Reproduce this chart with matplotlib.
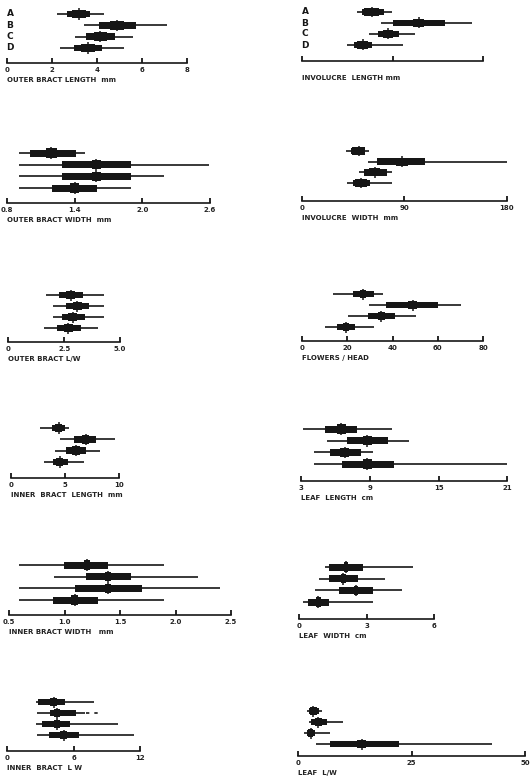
import matplotlib
matplotlib.use("Agg")
import matplotlib.pyplot as plt

taxa = ["A", "B", "C", "D"]

# ---- data (range, mean +/- SD box, mean, half-width of 2SE box) ----
obl_range = [(2.2, 4.3), (3.4, 7.1), (3.0, 5.6), (2.35, 5.2)]
obl_sd = [(2.67, 3.70), (4.07, 5.75), (3.53, 4.81), (2.99, 4.22)]
obl_mean = [3.21, 4.89, 4.15, 3.59]
obl_se = [0.3, 0.3, 0.3, 0.3]

invl_range = [(6.1, 9.9), (8.7, 18.8), (7.4, 12.45), (5.0, 11.2)]
invl_sd = [(6.6, 9.1), (10.1, 15.8), (8.4, 10.7), (5.8, 7.7)]
invl_mean = [7.7, 12.9, 9.5, 6.7]
invl_se = [0.8, 0.6, 0.6, 0.6]

obw_range = [(0.9, 1.49), (0.9, 2.59), (0.9, 2.19), (0.9, 1.9)]
obw_sd = [(1.0, 1.41), (1.29, 1.9), (1.29, 1.9), (1.2, 1.6)]
obw_mean = [1.19, 1.59, 1.59, 1.40]
obw_se = [0.05, 0.04, 0.04, 0.04]

invw_range = [(39, 59), (58.5, 180), (50, 79), (39.5, 79)]
invw_sd = [(43, 56), (66, 108), (55, 75), (45, 60)]
invw_mean = [50, 88, 64, 52]
invw_se = [6, 5, 5, 5]

oblw_range = [(1.7, 4.3), (2.0, 4.3), (2.0, 4.3), (1.6, 4.0)]
oblw_sd = [(2.28, 3.33), (2.58, 3.63), (2.39, 3.43), (2.19, 3.24)]
oblw_mean = [2.79, 3.09, 2.88, 2.69]
oblw_se = [0.2, 0.2, 0.2, 0.2]

fph_range = [(13.7, 36), (29.8, 70), (20.6, 50.4), (10.3, 32)]
fph_sd = [(22.5, 32), (37, 60), (29.4, 41), (15.7, 23.5)]
fph_mean = [27, 49, 35, 19.5]
fph_se = [1.5, 2.0, 1.5, 1.5]

ibl_range = [(2.7, 5.4), (4.5, 9.6), (4.1, 8.2), (3.1, 6.8)]
ibl_sd = [(3.8, 5.0), (5.8, 7.9), (5.1, 6.9), (3.9, 5.3)]
ibl_mean = [4.4, 6.9, 6.0, 4.5]
ibl_se = [0.35, 0.35, 0.35, 0.35]

ll_range = [(3.2, 10.9), (5.3, 12.4), (4.1, 9.3), (4.1, 21)]
ll_sd = [(5.1, 7.9), (7.0, 10.6), (5.5, 8.2), (6.55, 11.1)]
ll_mean = [6.5, 8.8, 6.8, 8.8]
ll_se = [0.4, 0.4, 0.4, 0.4]

ibw_range = [(0.59, 1.9), (0.9, 2.2), (0.59, 2.4), (0.59, 1.9)]
ibw_sd = [(0.99, 1.39), (1.19, 1.6), (1.09, 1.7), (0.89, 1.3)]
ibw_mean = [1.2, 1.39, 1.39, 1.09]
ibw_se = [0.03, 0.03, 0.03, 0.03]

lw_range = [(1.14, 5.08), (0.89, 3.82), (0.70, 4.56), (0.18, 3.27)]
lw_sd = [(1.34, 2.82), (1.34, 2.63), (1.78, 3.27), (0.40, 1.34)]
lw_mean = [2.08, 1.96, 2.52, 0.85]
lw_se = [0.1, 0.1, 0.1, 0.1]

iblw_range = [(2.6, 7.8), (2.7, 7.0), (2.6, 10.0), (2.65, 11.5)]
iblw_sd = [(2.8, 5.2), (3.9, 6.2), (3.1, 5.7), (3.8, 6.5)]
iblw_mean = [4.2, 4.5, 4.5, 5.1]
iblw_se = [0.3, 0.3, 0.3, 0.3]
iblw_dashed = [None, (7.1, 8.5), None, None]

llw_range = [(2.0, 5.2), (2.4, 9.8), (1.25, 7.0), (3.9, 42.8)]
llw_sd = [(2.4, 4.6), (2.9, 6.25), (2.0, 3.7), (7.1, 22.3)]
llw_mean = [3.3, 4.4, 2.7, 14]
llw_se = [0.8, 0.8, 0.6, 1.0]

# tick values / labels
obl_ticks, obl_tl = [0, 2, 4, 6, 8], ["0", "2", "4", "6", "8"]
invl_ticks, invl_tl = [0, 10, 20], ["", "", ""]
obw_ticks, obw_tl = [0.8, 1.4, 2.0, 2.6], ["0.8", "1.4", "2.0", "2.6"]
invw_ticks, invw_tl = [0, 90, 180], ["0", "90", "180"]
oblw_ticks, oblw_tl = [0, 2.5, 5.0], ["0", "2.5", "5.0"]
fph_ticks, fph_tl = [0, 20, 40, 60, 80], ["0", "20", "40", "60", "80"]
ibl_ticks, ibl_tl = [0, 5, 10], ["0", "5", "10"]
ll_ticks, ll_tl = [3, 9, 15, 21], ["3", "9", "15", "21"]
ibw_ticks, ibw_tl = [0.5, 1.0, 1.5, 2.0, 2.5], ["0.5", "1.0", "1.5", "2.0", "2.5"]
lw_ticks, lw_tl = [0, 3, 6], ["0", "3", "6"]
iblw_ticks, iblw_tl = [0, 6, 12], ["0", "6", "12"]
llw_ticks, llw_tl = [0, 25, 50], ["0", "25", "50"]

W, H = 530, 776
fig = plt.figure(figsize=(W / 100, H / 100), dpi=100)
fig.patch.set_facecolor("white")
INK = "#161616"

panels = [
    # data, ticks, labels, xlabel, layout(x0,x1,axis_y,rowA,rowD), letters
    (obl_range, obl_sd, obl_mean, obl_se, None, obl_ticks, obl_tl, "OUTER BRACT LENGTH  mm", (7, 187, 63, 14, 48), True),
    (invl_range, invl_sd, invl_mean, invl_se, None, invl_ticks, invl_tl, "INVOLUCRE  LENGTH mm", (302, 483, 61, 12, 45), True),
    (obw_range, obw_sd, obw_mean, obw_se, None, obw_ticks, obw_tl, "OUTER BRACT WIDTH  mm", (7.3, 210, 203, 153, 188), False),
    (invw_range, invw_sd, invw_mean, invw_se, None, invw_ticks, invw_tl, "INVOLUCRE  WIDTH  mm", (301.7, 506.7, 201, 151, 183), False),
    (oblw_range, oblw_sd, oblw_mean, oblw_se, None, oblw_ticks, oblw_tl, "OUTER BRACT L/W", (8.3, 120, 342, 295, 328), False),
    (fph_range, fph_sd, fph_mean, fph_se, None, fph_ticks, fph_tl, "FLOWERS / HEAD", (301.7, 483.3, 341, 294, 327), False),
    (ibl_range, ibl_sd, ibl_mean, ibl_se, None, ibl_ticks, ibl_tl, "INNER  BRACT  LENGTH  mm", (11, 119, 478, 428, 462), False),
    (ll_range, ll_sd, ll_mean, ll_se, None, ll_ticks, ll_tl, "LEAF  LENGTH  cm", (301, 507.3, 481, 429, 464), False),
    (ibw_range, ibw_sd, ibw_mean, ibw_se, None, ibw_ticks, ibw_tl, "INNER BRACT WIDTH   mm", (9.3, 231, 615, 565, 600), False),
    (lw_range, lw_sd, lw_mean, lw_se, None, lw_ticks, lw_tl, "LEAF  WIDTH  cm", (299.3, 434, 619, 567, 602), False),
    (iblw_range, iblw_sd, iblw_mean, iblw_se, iblw_dashed, iblw_ticks, iblw_tl, "INNER  BRACT  L W", (7.3, 140, 751, 702, 735), False),
    (llw_range, llw_sd, llw_mean, llw_se, None, llw_ticks, llw_tl, "LEAF  L/W", (298.3, 525, 756, 711, 744), False),
]

for rng, sd, mean, se, dashed, ticks, tls, xlabel, lay, letters in panels:
    x0, x1, ay, rA, rD = lay
    s = (rD - rA) / 3.0
    top = rA - 0.9 * s
    ax = fig.add_axes([x0 / W, 1 - ay / H, (x1 - x0) / W, (ay - top) / H])
    ax.set_facecolor("none")
    ax.set_xlim(ticks[0], ticks[-1])
    ax.set_ylim(3 + (ay - rD) / s, -0.9)
    for sp in ("left", "top", "right"):
        ax.spines[sp].set_visible(False)
    ax.spines["bottom"].set_linewidth(1.2)
    ax.spines["bottom"].set_color(INK)
    ax.set_yticks([])
    ax.set_xticks(ticks)
    ax.set_xticklabels(tls, fontsize=5, fontweight="bold", color="#222222")
    ax.tick_params(axis="x", direction="in", length=3.5, width=1.3, color=INK, pad=3.2)
    for i in range(len(taxa)):
        ax.hlines(i, rng[i][0], rng[i][1], color=INK, lw=1.2, clip_on=False)
        if dashed is not None and dashed[i] is not None:
            ax.hlines(i, dashed[i][0], dashed[i][1], color=INK, lw=1.2,
                      linestyles=(0, (2, 3)), clip_on=False)
        ax.barh(i, sd[i][1] - sd[i][0], left=sd[i][0], height=0.6,
                color=INK, edgecolor="none", clip_on=False)
        ax.barh(i, 2 * se[i], left=mean[i] - se[i], height=0.78,
                color=INK, edgecolor="none", clip_on=False)
        ax.vlines(mean[i], i - 0.5, i + 0.5, color=INK, lw=1.1, clip_on=False)
        if letters:
            ax.annotate(taxa[i], xy=(0, i), xycoords=("axes fraction", "data"),
                        xytext=(2.2, 0), textcoords="offset points",
                        ha="center", va="center", fontsize=6.5,
                        fontweight="bold", color=INK)
    ax.annotate(xlabel, xy=(0, 0), xycoords="axes fraction",
                xytext=(0, -12.3), textcoords="offset points",
                ha="left", va="center", fontsize=5, fontweight="bold",
                color="#222222")

fig.savefig("out.png", dpi=100, facecolor="white")
